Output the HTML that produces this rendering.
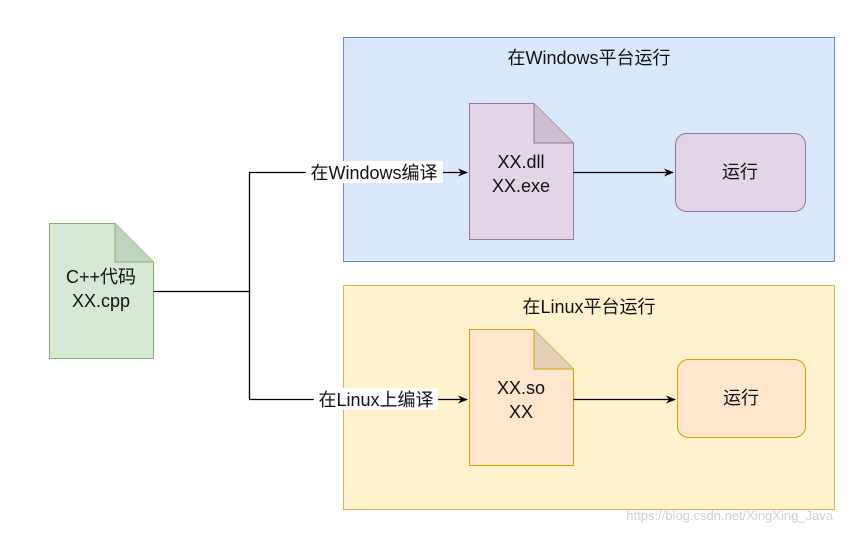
<!DOCTYPE html>
<html><head><meta charset="utf-8"><style>
body{margin:0;background:#fff;}
svg text{font-family:"Liberation Sans","Noto Sans CJK SC",sans-serif;font-size:18px;fill:#111;}
</style></head><body>
<svg width="855" height="533" viewBox="0 0 855 533" xmlns="http://www.w3.org/2000/svg">
<defs><marker id="a" markerWidth="10" markerHeight="10" refX="9" refY="5" orient="auto" markerUnits="userSpaceOnUse"><path d="M0,1 L10,5 L0,9 L3,5 Z" fill="#000"/></marker></defs>
<rect x="343.5" y="37.5" width="491" height="224" fill="#dae8fc" stroke="#6c8ebf"/>
<rect x="343.5" y="285.5" width="491" height="224" fill="#fff2cc" stroke="#d6b656"/>
<text x="589" y="64" text-anchor="middle">在Windows平台运行</text>
<text x="589" y="313" text-anchor="middle">在Linux平台运行</text>
<path d="M49.5,223.5 H115 L153.5,262 V358.5 H49.5 Z" fill="#d5e8d4" stroke="#82b366"/>
<path d="M115,223.5 V262 H153.5" fill="#c0d4bf" stroke="#82b366"/>
<text x="101" y="283" text-anchor="middle">C++代码</text>
<text x="101" y="307" text-anchor="middle">XX.cpp</text>
<path d="M469.5,103.5 H534 L573.5,143 V239.5 H469.5 Z" fill="#e1d5e7" stroke="#9673a6"/>
<path d="M534,103.5 V143 H573.5" fill="#cbbfd0" stroke="#9673a6"/>
<text x="521" y="168" text-anchor="middle">XX.dll</text>
<text x="521" y="192" text-anchor="middle">XX.exe</text>
<path d="M469.5,329.5 H534 L573.5,369 V465.5 H469.5 Z" fill="#ffe6cc" stroke="#d79b00"/>
<path d="M534,329.5 V369 H573.5" fill="#e6cfb8" stroke="#d79b00"/>
<text x="521" y="394" text-anchor="middle">XX.so</text>
<text x="521" y="418" text-anchor="middle">XX</text>
<rect x="675.5" y="133.5" width="130" height="78" rx="11" fill="#e1d5e7" stroke="#9673a6"/>
<text x="740" y="178" text-anchor="middle">运行</text>
<rect x="677.5" y="359.5" width="128" height="78" rx="11" fill="#ffe6cc" stroke="#d79b00"/>
<text x="741" y="404" text-anchor="middle">运行</text>
<path d="M153.5,291.5 H249.5 V172.5 H467" fill="none" stroke="#000" stroke-width="1.3" marker-end="url(#a)"/>
<path d="M249.5,291.5 V399.5 H467" fill="none" stroke="#000" stroke-width="1.3" marker-end="url(#a)"/>
<path d="M573.5,172.5 H673" fill="none" stroke="#000" stroke-width="1.3" marker-end="url(#a)"/>
<path d="M573.5,399.5 H675" fill="none" stroke="#000" stroke-width="1.3" marker-end="url(#a)"/>
<rect x="306" y="161" width="137" height="22" fill="#fff"/>
<text x="374" y="179" text-anchor="middle">在Windows编译</text>
<rect x="314" y="388" width="124" height="22" fill="#fff"/>
<text x="376" y="406" text-anchor="middle">在Linux上编译</text>
<text x="833" y="520" text-anchor="end" style="font-size:13px;fill:#d0d0d0">https://blog.csdn.net/XingXing_Java</text>
</svg>
</body></html>
